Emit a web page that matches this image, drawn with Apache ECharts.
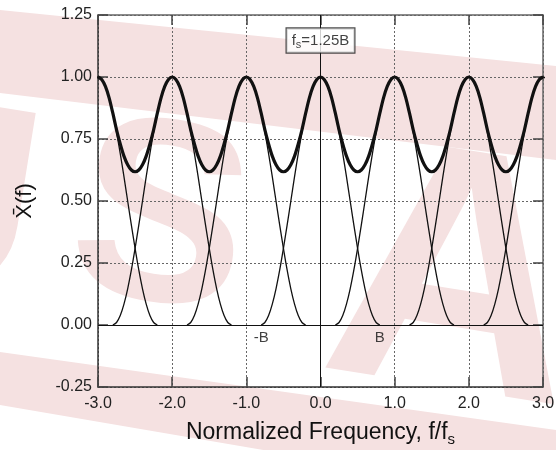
<!DOCTYPE html>
<html>
<head>
<meta charset="utf-8">
<script src="https://cdn.jsdelivr.net/npm/echarts@6/dist/echarts.min.js"></script>
<style>
html,body{margin:0;padding:0;background:#fff;}
#chart{width:556px;height:450px;}
</style>
</head>
<body>
<div id="chart"></div>
<script>
// ---- data ----
const xTickValues = [-3, -2, -1, 0, 1, 2, 3];
const yTickValues = [-0.25, 0, 0.25, 0.5, 0.75, 1.0, 1.25];
// centres of the individual pulses (normalized frequency)
const pulseCenters = [-3, -2, -1, 0, 1, 2, 3];
// shape of one pulse: offset from its centre and height
const pulseOffsets = [-0.8, -0.75, -0.7, -0.65, -0.6, -0.55, -0.5, -0.45, -0.4, -0.35, -0.3, -0.25, -0.2, -0.15, -0.1, -0.05, 0,
                      0.05, 0.1, 0.15, 0.2, 0.25, 0.3, 0.35, 0.4, 0.45, 0.5, 0.55, 0.6, 0.65, 0.7, 0.75, 0.8];
const pulseHeights = [0, 0.010, 0.038, 0.084, 0.146, 0.222, 0.309, 0.403, 0.5, 0.598, 0.691, 0.778, 0.854, 0.916, 0.962, 0.990, 1,
                      0.990, 0.962, 0.916, 0.854, 0.778, 0.691, 0.598, 0.5, 0.403, 0.309, 0.222, 0.146, 0.084, 0.038, 0.010, 0];
// thick summed curve
const sumX = [-3, -2.95, -2.9, -2.85, -2.8, -2.75, -2.7, -2.65, -2.6, -2.55, -2.5, -2.45, -2.4, -2.35, -2.3, -2.25, -2.2, -2.15, -2.1, -2.05,
              -2, -1.95, -1.9, -1.85, -1.8, -1.75, -1.7, -1.65, -1.6, -1.55, -1.5, -1.45, -1.4, -1.35, -1.3, -1.25, -1.2, -1.15, -1.1, -1.05,
              -1, -0.95, -0.9, -0.85, -0.8, -0.75, -0.7, -0.65, -0.6, -0.55, -0.5, -0.45, -0.4, -0.35, -0.3, -0.25, -0.2, -0.15, -0.1, -0.05,
              0, 0.05, 0.1, 0.15, 0.2, 0.25, 0.3, 0.35, 0.4, 0.45, 0.5, 0.55, 0.6, 0.65, 0.7, 0.75, 0.8, 0.85, 0.9, 0.95,
              1, 1.05, 1.1, 1.15, 1.2, 1.25, 1.3, 1.35, 1.4, 1.45, 1.5, 1.55, 1.6, 1.65, 1.7, 1.75, 1.8, 1.85, 1.9, 1.95,
              2, 2.05, 2.1, 2.15, 2.2, 2.25, 2.3, 2.35, 2.4, 2.45, 2.5, 2.55, 2.6, 2.65, 2.7, 2.75, 2.8, 2.85, 2.9, 2.95, 3];
const sumY = [1, 0.990, 0.962, 0.916, 0.854, 0.787, 0.730, 0.681, 0.646, 0.625, 0.618, 0.625, 0.646, 0.681, 0.730, 0.787, 0.854, 0.916, 0.962, 0.990,
              1, 0.990, 0.962, 0.916, 0.854, 0.787, 0.730, 0.681, 0.646, 0.625, 0.618, 0.625, 0.646, 0.681, 0.730, 0.787, 0.854, 0.916, 0.962, 0.990,
              1, 0.990, 0.962, 0.916, 0.854, 0.787, 0.730, 0.681, 0.646, 0.625, 0.618, 0.625, 0.646, 0.681, 0.730, 0.787, 0.854, 0.916, 0.962, 0.990,
              1, 0.990, 0.962, 0.916, 0.854, 0.787, 0.730, 0.681, 0.646, 0.625, 0.618, 0.625, 0.646, 0.681, 0.730, 0.787, 0.854, 0.916, 0.962, 0.990,
              1, 0.990, 0.962, 0.916, 0.854, 0.787, 0.730, 0.681, 0.646, 0.625, 0.618, 0.625, 0.646, 0.681, 0.730, 0.787, 0.854, 0.916, 0.962, 0.990,
              1, 0.990, 0.962, 0.916, 0.854, 0.787, 0.730, 0.681, 0.646, 0.625, 0.618, 0.625, 0.646, 0.681, 0.730, 0.787, 0.854, 0.916, 0.962, 0.990, 1];
// annotations
const boxText = {x: 0, y: 1.147};
const bandLabels = [{x: -0.8, y: -0.052, text: '-B'}, {x: 0.8, y: -0.052, text: 'B'}];

// ---- build ----
const FONT = '"Liberation Sans", Arial, sans-serif';
const PINK = '#f5e1e1';
const chart = echarts.init(document.getElementById('chart'), null, {renderer: 'canvas'});

const pulseSeries = pulseCenters.map(c => ({
  type: 'line',
  data: pulseOffsets.map((o, i) => [c + o, pulseHeights[i]]),
  showSymbol: false,
  smooth: 0.3,
  clip: true,
  lineStyle: {color: '#111', width: 1.3},
  silent: true,
  z: 3
}));

const gridLineStyle = {type: [2, 2], color: '#666', width: 1};
const tickStyle = {inside: true, length: 10, lineStyle: {color: '#444', width: 1.5}};
const glyph = (ch, x, y, size) => ({
  type: 'text', z: -10, silent: true, x: x, y: y, rotation: -0.16,
  style: {text: ch, font: 'bold ' + size + 'px "Liberation Sans", Arial, sans-serif',
          fill: PINK, align: 'center', verticalAlign: 'middle'}
});

const option = {
  animation: false,
  backgroundColor: '#fff',
  graphic: [
    {type: 'polygon', z: -10, silent: true,
     shape: {points: [[0, 10], [556, 66], [556, 160], [0, 93]]},
     style: {fill: PINK}},
    {type: 'polygon', z: -10, silent: true,
     shape: {points: [[0, 352], [556, 430], [556, 500], [0, 405]]},
     style: {fill: PINK}},
    glyph('U', -62, 210, 270),
    glyph('S', 160, 228, 260),
    glyph('A', 455, 292, 345)
  ],
  grid: {left: 98, right: 13, top: 15, bottom: 63, containLabel: false, outerBoundsMode: 'none'},
  xAxis: [{
    type: 'value', min: -3, max: 3, interval: 1,
    name: 'Normalized Frequency, f/f{sub|s}',
    nameLocation: 'middle', nameGap: 32,
    nameTextStyle: {fontFamily: FONT, fontSize: 23, color: '#111',
      rich: {sub: {fontFamily: FONT, fontSize: 15, color: '#111', verticalAlign: 'bottom', padding: [13, 0, 0, 0]}}},
    axisLine: {show: true, onZero: false, lineStyle: {color: '#333', width: 1.5}},
    axisTick: tickStyle,
    axisLabel: {fontFamily: FONT, fontSize: 16, color: '#222', margin: 9,
      formatter: v => xTickValues.includes(v) ? v.toFixed(1) : ''},
    splitLine: {show: true, lineStyle: gridLineStyle}
  }, {
    type: 'value', min: -3, max: 3, interval: 1, position: 'top',
    axisLine: {show: true, onZero: false, lineStyle: {color: '#666', width: 1.5}},
    axisTick: tickStyle, axisLabel: {show: false}, splitLine: {show: false}
  }],
  yAxis: [{
    type: 'value', min: -0.25, max: 1.25, interval: 0.25,
    name: 'X\u0304(f)', nameLocation: 'middle', nameGap: 62, nameRotate: 90,
    nameTextStyle: {fontFamily: FONT, fontSize: 22, color: '#111'},
    axisLine: {show: true, onZero: false, lineStyle: {color: '#333', width: 1.5}},
    axisTick: tickStyle,
    axisLabel: {fontFamily: FONT, fontSize: 16, color: '#222', margin: 6,
      formatter: v => yTickValues.includes(v) ? v.toFixed(2) : ''},
    splitLine: {show: true, lineStyle: gridLineStyle}
  }, {
    type: 'value', min: -0.25, max: 1.25, interval: 0.25, position: 'right',
    axisLine: {show: true, onZero: false, lineStyle: {color: '#666', width: 1.5}},
    axisTick: tickStyle, axisLabel: {show: false}, splitLine: {show: false}
  }],
  series: [
    {
      type: 'line', data: [], silent: true, z: 2,
      markLine: {
        silent: true, symbol: 'none', animation: false,
        label: {show: false},
        lineStyle: {color: '#111', width: 1, type: 'solid'},
        data: [{xAxis: 0}, {yAxis: 0}]
      }
    },
    ...pulseSeries,
    {
      type: 'line',
      data: sumX.map((x, i) => [x, sumY[i]]),
      showSymbol: false, smooth: 0.3, silent: true,
      lineStyle: {color: '#111', width: 3.2},
      z: 4
    },
    {
      type: 'scatter', symbolSize: 0, silent: true, z: 6,
      data: [[boxText.x, boxText.y]],
      label: {
        show: true, position: 'inside',
        formatter: '{a|f}{s|s}{a|=1.25B}',
        backgroundColor: '#fff', borderColor: '#222', borderWidth: 1.2,
        padding: [3, 5, 2, 5],
        rich: {
          a: {fontFamily: FONT, fontSize: 15, color: '#111'},
          s: {fontFamily: FONT, fontSize: 11, color: '#111', verticalAlign: 'bottom', padding: [8, 0, 0, 0]}
        }
      }
    },
    {
      type: 'scatter', symbolSize: 0, silent: true, z: 6,
      data: bandLabels.map(b => ({value: [b.x, b.y], name: b.text})),
      label: {show: true, position: 'inside', formatter: p => p.name,
        fontFamily: FONT, fontSize: 15, color: '#111'}
    }
  ]
};
chart.setOption(option);
</script>
</body>
</html>
